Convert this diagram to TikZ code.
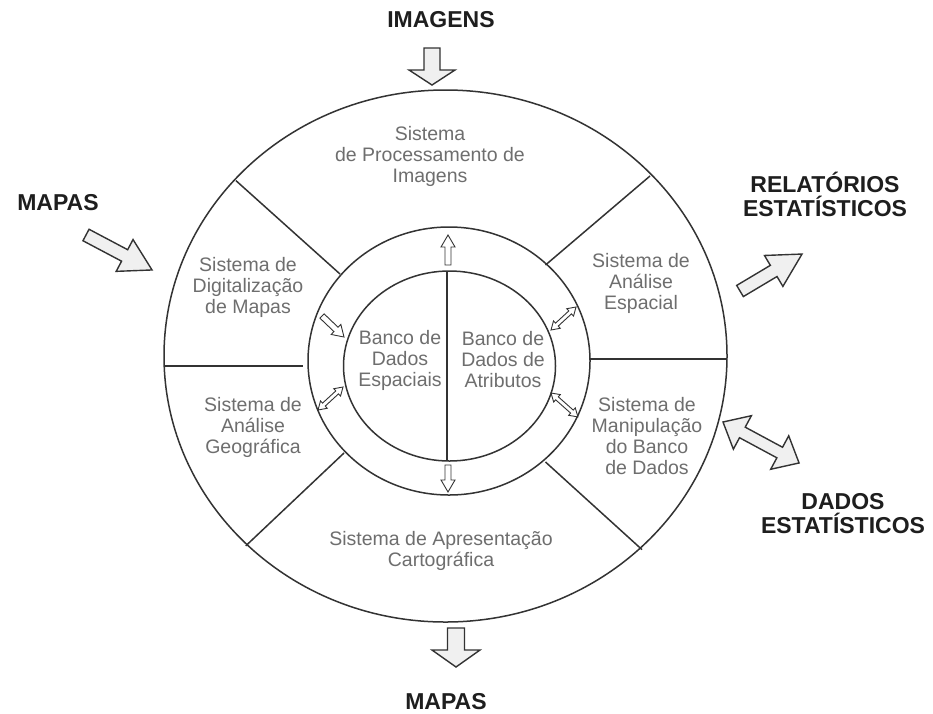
\documentclass[tikz,border=0pt]{standalone}
\usepackage{fontspec}
\setmainfont{Liberation Sans}
\definecolor{linec}{HTML}{333333}
\definecolor{arrfill}{HTML}{F0F0F0}
\definecolor{lblc}{HTML}{6E6E6E}
\definecolor{blc}{HTML}{1E1E1E}
\tikzset{
  ln/.style={draw=linec, line width=1.5pt},
  bigarr/.style={draw=linec, fill=arrfill, line width=1.4pt, line join=miter},
  smallarr/.style={draw=linec, fill=white, line width=0.9pt, line join=miter},
  lbl/.style={text=lblc, align=center, font=\fontsize{19.5}{21}\selectfont, inner sep=0pt},
  blbl/.style={text=blc, align=center, font=\fontsize{23}{24}\selectfont\bfseries, inner sep=0pt},
}
% single block arrow: style, tail x, tail y, angle, length, shaft half, head half, head length
\newcommand\sarrow[8]{%
  \begin{scope}[shift={(#2,#3)},rotate=#4]
    \draw[#1] (0,-#6)--(#5-#8,-#6)--(#5-#8,-#7)--(#5,0)--(#5-#8,#7)--(#5-#8,#6)--(0,#6)--cycle;
  \end{scope}}
% double block arrow: style, tip x, tip y, angle, length, shaft half, head half, head length
\newcommand\darrow[8]{%
  \begin{scope}[shift={(#2,#3)},rotate=#4]
    \draw[#1] (0,0)--(#8,-#7)--(#8,-#6)--(#5-#8,-#6)--(#5-#8,-#7)--(#5,0)--(#5-#8,#7)--(#5-#8,#6)--(#8,#6)--(#8,#7)--cycle;
  \end{scope}}
\begin{document}
\begin{tikzpicture}[x=1pt,y=-1pt]
\useasboundingbox[fill=white] (0,0) rectangle (933,713);

% centres
\coordinate (co) at (445.5,356);
\coordinate (cm) at (449,361);
\coordinate (ci) at (449.5,366);

% ellipses
\draw[ln] (co) ellipse [x radius=281.5, y radius=266];
\draw[ln] (cm) ellipse [x radius=141, y radius=134];
\draw[ln] (ci) ellipse [x radius=106, y radius=95];

% spokes
\coordinate (ulo) at (235.8,180.5);  \coordinate (uli) at (340,274);
\coordinate (uro) at (650,176);      \coordinate (uri) at (545.5,265);
\coordinate (llo) at (245.7,545.9);  \coordinate (lli) at (344,453);
\coordinate (lro) at (642,549.6);    \coordinate (lri) at (545.5,462);
\coordinate (ro) at (726.5,359);     \coordinate (ri) at (590,359);
\coordinate (lo) at (164.5,366);     \coordinate (li) at (303,366);
\coordinate (vt) at (447,271);       \coordinate (vb) at (447,461);
\draw[ln] (ulo) -- (uli);
\draw[ln] (uro) -- (uri);
\draw[ln] (llo) -- (lli);
\draw[ln] (lro) -- (lri);
\draw[ln] (ro) -- (ri);
\draw[ln] (lo) -- (li);
\draw[ln] (vt) -- (vb);

% big arrows
\sarrow{bigarr}{432}{48}{-90}{37}{8}{23}{15}
\sarrow{bigarr}{456}{628}{-90}{39}{8.5}{24}{17}
\sarrow{bigarr}{86}{235}{-27.9}{74.7}{6.5}{18}{31}
\sarrow{bigarr}{740}{291}{30.8}{72.2}{6.5}{18}{33}
\darrow{bigarr}{723}{422}{-28.3}{86.4}{6}{19}{22}

% small arrows
\sarrow{smallarr}{448}{265}{90}{30}{3}{7}{12}
\sarrow{smallarr}{448}{465}{-90}{27}{3}{7}{12}
\sarrow{smallarr}{322}{316}{-43.7}{30.4}{3}{7}{11}
\darrow{smallarr}{318}{410}{42.6}{34}{2}{5}{8}
\darrow{smallarr}{551}{330}{42.6}{34}{2}{5}{8}
\darrow{smallarr}{551}{393}{-41.6}{36}{2}{5}{8}

% labels in the rings
\node[lbl] (proc) at (430,156) {Sistema\\de Processamento de\\Imagens};
\node[lbl] (digi) at (248,287) {Sistema de\\Digitalização\\de Mapas};
\node[lbl] (aesp) at (641,283) {Sistema de\\Análise\\Espacial};
\node[lbl] (ageo) at (253,427) {Sistema de\\Análise\\Geográfica};
\node[lbl] (manip) at (647,436) {Sistema de\\Manipulação\\do Banco\\de Dados};
\node[lbl] (apres) at (441,551) {Sistema de Apresentação\\Cartográfica};
\node[lbl] (bdesp) at (400,360) {Banco de\\Dados\\Espaciais};
\node[lbl] (bdatr) at (503,360) {Banco de\\Dados de\\Atributos};

% outside labels
\node[blbl] (imag) at (441,20) {IMAGENS};
\node[blbl] (mapin) at (58,203) {MAPAS};
\node[blbl] (relat) at (825,194) {RELATÓRIOS\\ESTATÍSTICOS};
\node[blbl] (dados) at (843,514) {DADOS\\ESTATÍSTICOS};
\node[blbl] (mapout) at (446,702) {MAPAS};
\end{tikzpicture}
\end{document}
